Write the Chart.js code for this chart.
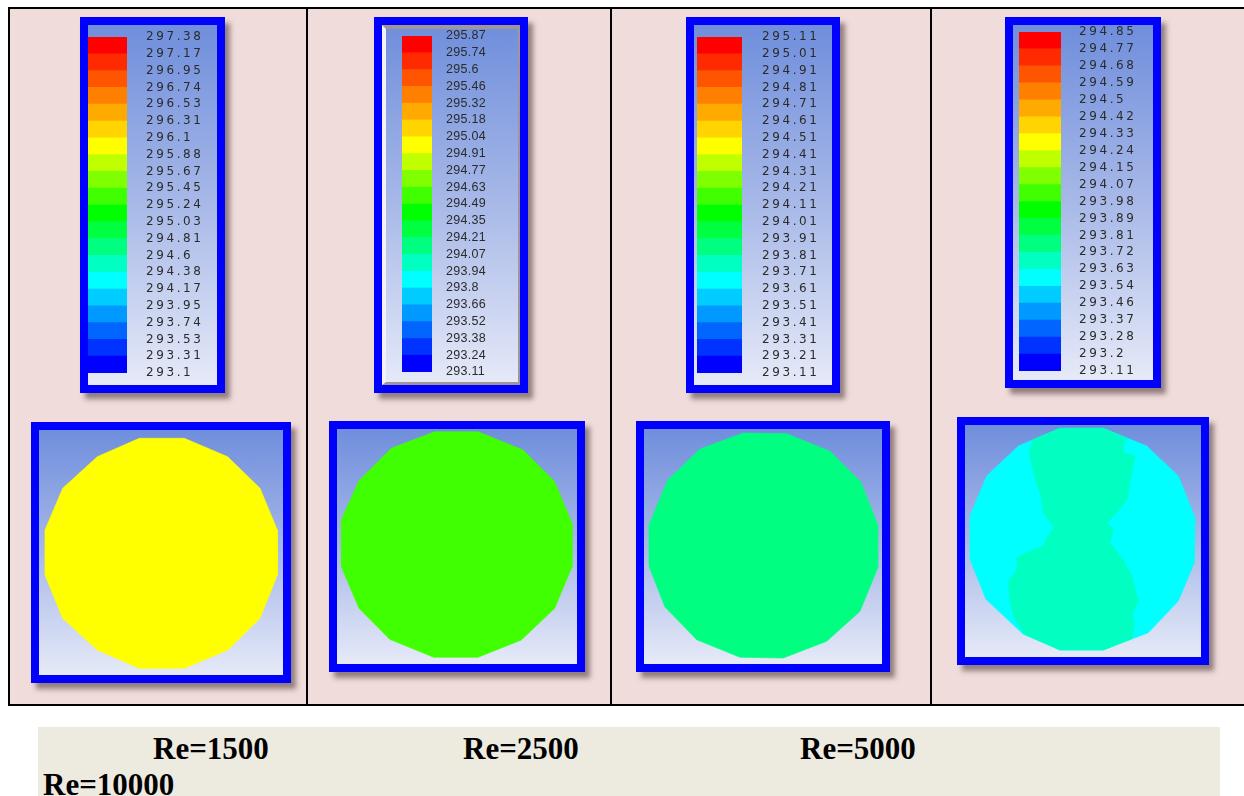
<!DOCTYPE html>
<html>
<head>
<meta charset="utf-8">
<script src="https://cdn.jsdelivr.net/npm/chart.js"></script>
<style>
  html,body{margin:0;padding:0;background:#fff;}
  body{width:1244px;height:796px;position:relative;overflow:hidden;}
  .abs{position:absolute;}
  #table{left:8px;top:7px;width:1240px;height:699px;background:#f0dcdb;border:2px solid #000;box-sizing:border-box;}
  .vline{position:absolute;top:7px;width:2px;height:699px;background:#000;}
  .box{position:absolute;border:8px solid #0000ff;box-sizing:border-box;
       background:linear-gradient(to bottom,#6f8edc 0%,#a8b9e8 50%,#e6eaf8 100%);
       box-shadow:5px 6px 5px rgba(70,50,50,0.55);}
  .box canvas{position:absolute;left:0;top:0;}
  .frame{position:absolute;left:0;top:0;right:0;bottom:0;box-sizing:border-box;
         border-top:4px solid #9f9696;border-right:2px solid #9f9696;border-bottom:3px solid #9f9696;border-left:4px solid #f2f3f8;}
  #caption{left:38px;top:727px;width:1182px;height:69px;background:#edeae0;}
  .cap{position:absolute;font-family:"Liberation Serif","Times New Roman",serif;font-weight:bold;font-size:31px;color:#000;line-height:1;white-space:nowrap;}
</style>
</head>
<body>
<div id="table" class="abs"></div>
<div class="vline" style="left:306px"></div>
<div class="vline" style="left:610px"></div>
<div class="vline" style="left:930px"></div>

<div class="box" style="left:80px;top:17px;width:145px;height:376px"><canvas id="cb1" width="129" height="360"></canvas></div>
<div class="box" style="left:374px;top:17px;width:154px;height:376px"><canvas id="cb2" width="138" height="360"></canvas><div class="frame"></div></div>
<div class="box" style="left:686px;top:17px;width:154px;height:376px"><canvas id="cb3" width="138" height="360"></canvas></div>
<div class="box" style="left:1005px;top:17px;width:156px;height:371px"><canvas id="cb4" width="140" height="355"></canvas></div>

<div class="box" style="left:31px;top:422px;width:260px;height:261px"><canvas id="ct1" width="244" height="245"></canvas></div>
<div class="box" style="left:329px;top:421px;width:256px;height:251px"><canvas id="ct2" width="240" height="235"></canvas></div>
<div class="box" style="left:636px;top:421px;width:254px;height:251px"><canvas id="ct3" width="238" height="235"></canvas></div>
<div class="box" style="left:957px;top:417px;width:252px;height:248px"><canvas id="ct4" width="236" height="232"></canvas></div>

<div id="caption" class="abs"></div>
<div class="cap" style="left:153px;top:733px">Re=1500</div>
<div class="cap" style="left:463px;top:733px">Re=2500</div>
<div class="cap" style="left:800px;top:733px">Re=5000</div>
<div class="cap" style="left:43px;top:769px">Re=10000</div>

<script>
// ---------- DATA ----------
// colour bands of the legend, bottom (lowest) to top (highest)
const bandColors = ['#0000ff','#0033ff','#0066ff','#0099ff','#00ccff','#00ffff','#00ffc0','#00ff80','#00ff40','#00ff00',
                    '#40ff00','#80ff00','#c0ff00','#ffff00','#ffd400','#ffaa00','#ff8000','#ff5500','#ff2a00','#ff0000'];

// legend tick labels (top to bottom)
const labelsRe1500  = ['297.38','297.17','296.95','296.74','296.53','296.31','296.1','295.88','295.67','295.45','295.24','295.03','294.81','294.6','294.38','294.17','293.95','293.74','293.53','293.31','293.1'];
const labelsRe2500  = ['295.87','295.74','295.6','295.46','295.32','295.18','295.04','294.91','294.77','294.63','294.49','294.35','294.21','294.07','293.94','293.8','293.66','293.52','293.38','293.24','293.11'];
const labelsRe5000  = ['295.11','295.01','294.91','294.81','294.71','294.61','294.51','294.41','294.31','294.21','294.11','294.01','293.91','293.81','293.71','293.61','293.51','293.41','293.31','293.21','293.11'];
const labelsRe10000 = ['294.85','294.77','294.68','294.59','294.5','294.42','294.33','294.24','294.15','294.07','293.98','293.89','293.81','293.72','293.63','293.54','293.46','293.37','293.28','293.2','293.11'];

// contour regions: outline vertices (x right, y down, in px of the plot frame)
const shapeRe1500 = [[100.3,8.3],[145.3,8.3],[188.7,26.7],[221,58.3],[238.3,100],[238.3,145],[221,188.3],[188.7,220],[145.3,238.3],[100.3,238.3],[58.3,220],[23.7,188.3],[6,145],[6,100],[23.7,58.3],[58.3,26.7]];
const shapeRe2500 = [[97.7,2.7],[141,2.7],[186,21],[217.7,52.7],[235,94.3],[235,137.7],[217.7,179.3],[184.3,211],[141,228.3],[96.7,228.3],[52.7,210.3],[22,179.3],[4.3,137.7],[4.3,91],[22,51.7],[54.3,19.3]];
const shapeRe5000 = [[99.3,4],[142.7,4.7],[186,22.3],[217,53.3],[233.7,95.7],[233.7,139],[216,182.3],[182.7,212.3],[139.3,229],[96,228.3],[52.7,210.7],[21,178],[5,137.3],[5,95.7],[23.7,51.3],[56,20]];
const shapeRe10000Outer = [[95,3.3],[138.3,3.3],[181.7,21],[213.3,51],[230,92.7],[229.3,137.7],[213.3,176],[183.3,207.7],[138.3,225],[95,225],[58.3,209.3],[21,174.3],[5,134.3],[5,91],[21.7,51],[53.3,21]];
const shapeRe10000Core = [[67.7,14.7],[64,27.7],[66.7,39.3],[71,56],[76,71],[78.3,87.7],[83.3,94.3],[89,102.7],[81.7,112.7],[78.3,121],[61.7,127.7],[51.7,132.7],[52.3,142.7],[43.3,157.7],[45,177.7],[50,194.3],[60,209.3],[95,225],[138.3,225],[166.7,213.7],[169,202.7],[167.7,187.7],[173.3,176],[166.7,151],[156.7,132.7],[145,117.7],[148.3,104.3],[141.7,97.7],[151.7,87.7],[162.3,74.3],[165,57.7],[170,31],[159,27.7],[158.3,17.7],[162.3,13.7],[138.3,3.3],[95,3.3]];

// region colours (band index into bandColors)
const fillRe1500 = bandColors[13];
const fillRe2500 = bandColors[10];
const fillRe5000 = bandColors[7];
const fillRe10000Outer = bandColors[5];
const fillRe10000Core = bandColors[6];

// ---------- CHARTS ----------
function colorbar(id, labels, g) {
  const n = labels.length - 1;
  new Chart(document.getElementById(id), {
    type: 'bar',
    data: {
      labels: ['T'],
      datasets: bandColors.map((c, i) => ({
        data: [[i, i + 1]], backgroundColor: c, borderWidth: 0,
        grouped: false, barPercentage: 1, categoryPercentage: 1
      }))
    },
    options: {
      responsive: false, animation: false, events: [],
      layout: { padding: { left: g.left, top: g.top, bottom: g.bottom, right: 0 } },
      plugins: { legend: { display: false }, tooltip: { enabled: false } },
      scales: {
        x: { display: false },
        y: {
          position: 'right', min: 0, max: n,
          grid: { display: false, drawTicks: false }, border: { display: false },
          afterBuildTicks: s => { s.ticks = labels.map((_, i) => ({ value: n - i })); },
          afterFit: s => { s.width = g.axisW; s.paddingTop = 0; s.paddingBottom = 0; },
          ticks: {
            autoSkip: false, padding: g.pad, color: '#2b2b2b',
            font: { family: g.family, size: g.size, lineHeight: 1 },
            callback: v => labels[n - v]
          }
        }
      }
    },
    plugins: [{ id: 'spacing', beforeDraw(c) { c.ctx.letterSpacing = g.ls; } }]
  });
}

function contour(id, w, h, regions) {
  new Chart(document.getElementById(id), {
    type: 'line',
    data: {
      datasets: regions.map(r => ({
        data: r.pts.concat([r.pts[0]]).map(([x, y]) => ({ x, y })),
        fill: 'shape', backgroundColor: r.color, borderColor: r.color,
        borderWidth: 0.6, pointRadius: 0, tension: 0, order: r.order
      }))
    },
    options: {
      responsive: false, animation: false, events: [],
      layout: { padding: 0 },
      plugins: { legend: { display: false }, tooltip: { enabled: false } },
      scales: {
        x: { type: 'linear', display: false, min: 0, max: w },
        y: { type: 'linear', display: false, min: 0, max: h, reverse: true }
      }
    }
  });
}

const wide = { family: '"DejaVu Sans", sans-serif', size: 12, ls: '2.6px' };
colorbar('cb1', labelsRe1500,  Object.assign({ left: 0,  top: 12, bottom: 12, axisW: 90, pad: 19 }, wide));
colorbar('cb2', labelsRe2500,  { left: 20, top: 11, bottom: 13, axisW: 88, pad: 14, family: '"Liberation Sans", Arial, sans-serif', size: 12.5, ls: '0.3px' });
colorbar('cb3', labelsRe5000,  Object.assign({ left: 3,  top: 12, bottom: 12, axisW: 90, pad: 20 }, wide));
colorbar('cb4', labelsRe10000, Object.assign({ left: 6,  top: 7,  bottom: 9,  axisW: 92, pad: 18 }, wide));

contour('ct1', 244, 245, [{ pts: shapeRe1500, color: fillRe1500, order: 1 }]);
contour('ct2', 240, 235, [{ pts: shapeRe2500, color: fillRe2500, order: 1 }]);
contour('ct3', 238, 235, [{ pts: shapeRe5000, color: fillRe5000, order: 1 }]);
contour('ct4', 236, 232, [
  { pts: shapeRe10000Core, color: fillRe10000Core, order: 1 },
  { pts: shapeRe10000Outer, color: fillRe10000Outer, order: 2 }
]);
</script>
</body>
</html>
